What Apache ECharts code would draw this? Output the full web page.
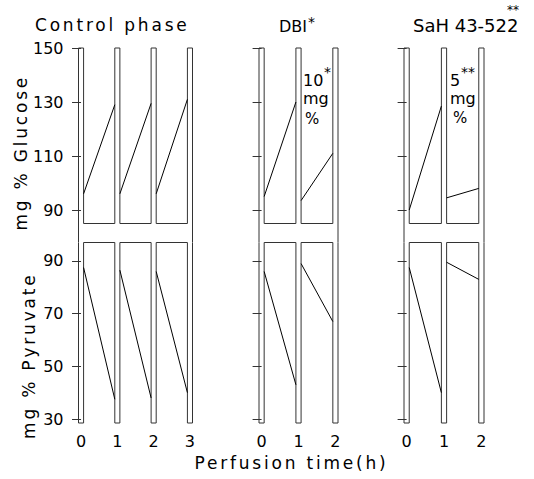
<!DOCTYPE html>
<html>
<head>
<meta charset="utf-8">
<script src="https://cdn.jsdelivr.net/npm/echarts@6/dist/echarts.min.js"></script>
<style>
  html, body { margin: 0; padding: 0; background: #fff; }
  #chart { width: 534px; height: 479px; }
  /* the old lettering is spaced out, numbers are not */
  #chart text[style*="spaced"], #chart text[font-family*="spaced"] { letter-spacing: 2.8px; }
</style>
</head>
<body>
<div id="chart"></div>
<script>
var hoursControl = [0, 1, 2, 3];
var hoursDrug = [0, 1, 2];

// [start, end] value of each hour of perfusion
var controlGlucose = [[96, 129], [96, 129.5], [96, 131]];
var controlPyruvate = [[87.5, 37.5], [86.5, 38], [86, 40]];
var dbiGlucose = [[95, 130], [93.5, 111]];
var dbiPyruvate = [[86, 43], [89, 67]];
var sahGlucose = [[90, 128.5], [94.5, 98]];
var sahPyruvate = [[87.5, 40], [89.5, 83]];

var glucoseTicks = [90, 110, 130, 150];
var pyruvateTicks = [30, 50, 70, 90];

var W = 0.07; // half width of the sampling bars, in hours
var GLU = { min: 85, max: 150, ext: 78 };
var PYR = { min: 28.5, max: 97 };
var WORDS = "'DejaVu Sans', spaced";
var PLAIN = "'DejaVu Sans'";
var INK = '#000';
var FRAME = '#333';

var chart = echarts.init(document.getElementById('chart'), null, { renderer: 'svg' });

var panels = [
  { hours: hoursControl, glucose: controlGlucose, pyruvate: controlPyruvate, left: 78.5, width: 114 },
  { hours: hoursDrug, glucose: dbiGlucose, pyruvate: dbiPyruvate, left: 259, width: 79 },
  { hours: hoursDrug, glucose: sahGlucose, pyruvate: sahPyruvate, left: 404, width: 80 }
];

var grid = [], xAxis = [], yAxis = [], series = [];

function lineSeries(gi, data, color) {
  return {
    type: 'line', xAxisIndex: gi, yAxisIndex: gi, data: data,
    symbol: 'none', clip: false, silent: true, animation: false,
    lineStyle: { color: color, width: 1 }
  };
}

panels.forEach(function (p, i) {
  var n = p.hours.length;
  var last = p.hours[n - 1];
  grid.push({ left: p.left, width: p.width, top: 48, height: 175.5 });
  grid.push({ left: p.left, width: p.width, top: 242.5, height: 180.5 });

  [0, 1].forEach(function (k) {
    var gi = i * 2 + k;
    var ticks = k === 0 ? glucoseTicks : pyruvateTicks;
    var lim = k === 0 ? GLU : PYR;
    xAxis.push({
      gridIndex: gi, type: 'value', min: -W, max: last + W,
      axisLine: { show: false }, axisTick: { show: false }, splitLine: { show: false },
      axisLabel: { show: k === 1, customValues: p.hours, margin: 10, fontSize: 16, color: INK, fontFamily: PLAIN }
    });
    yAxis.push({
      gridIndex: gi, type: 'value', min: lim.min, max: lim.max,
      axisLine: { show: false }, splitLine: { show: false },
      axisTick: { show: true, length: 9, customValues: ticks, lineStyle: { color: FRAME } },
      axisLabel: { show: i === 0, customValues: ticks, margin: 15, fontSize: 16, color: INK, fontFamily: PLAIN }
    });
  });

  // glucose frame: closed caps on top at each hour, open boxes between
  var gf = [];
  p.hours.forEach(function (h, j) {
    gf.push([h - W, j === 0 ? GLU.ext : GLU.min], [h - W, GLU.max], [h + W, GLU.max], [h + W, j === n - 1 ? GLU.ext : GLU.min]);
  });
  series.push(lineSeries(i * 2, gf, FRAME));

  // pyruvate frame: the same upside down
  var pf = [];
  p.hours.forEach(function (h) {
    pf.push([h - W, PYR.max], [h - W, PYR.min], [h + W, PYR.min], [h + W, PYR.max]);
  });
  series.push(lineSeries(i * 2 + 1, pf, FRAME));

  // one line per hour of perfusion
  for (var j = 0; j < n - 1; j++) {
    series.push(lineSeries(i * 2, [[p.hours[j] + W, p.glucose[j][0]], [p.hours[j + 1] - W, p.glucose[j][1]]], INK));
    series.push(lineSeries(i * 2 + 1, [[p.hours[j] + W, p.pyruvate[j][0]], [p.hours[j + 1] - W, p.pyruvate[j][1]]], INK));
  }
});

yAxis[0].name = 'mg % Glucose';
yAxis[0].nameLocation = 'middle';
yAxis[0].nameGap = 41;
yAxis[0].nameTextStyle = { fontSize: 17, color: INK, fontFamily: WORDS, padding: [0, 34, 0, 0] };
yAxis[1].name = 'mg % Pyruvate';
yAxis[1].nameLocation = 'middle';
yAxis[1].nameGap = 41;
yAxis[1].nameTextStyle = { fontSize: 17, color: INK, fontFamily: WORDS, padding: [0, 46, 0, 0] };

xAxis[3].name = 'Perfusion time(h)';
xAxis[3].nameLocation = 'middle';
xAxis[3].nameGap = 31;
xAxis[3].nameTextStyle = { fontSize: 17, color: INK, fontFamily: WORDS, padding: [0, 14, 0, 0] };

function label(text, x, y, size, family) {
  return {
    type: 'text', x: x, y: y, silent: true,
    style: { text: text, fontSize: size, fontFamily: family || PLAIN, fill: INK, align: 'left', verticalAlign: 'middle' }
  };
}

var option = {
  backgroundColor: '#fff',
  animation: false,
  grid: grid,
  xAxis: xAxis,
  yAxis: yAxis,
  series: series,
  graphic: [
    label('Control phase', 35, 25, 17, WORDS),
    label('DBI', 279, 26, 16),
    label('*', 308, 22, 14),
    label('SaH 43-522', 413, 25, 18),
    label('**', 507, 10, 12),
    label('10', 303, 80, 16),
    label('*', 324, 72, 14),
    label('mg', 303, 98, 16),
    label('%', 305, 119, 15),
    label('5', 450, 80, 16),
    label('**', 461, 72, 14),
    label('mg', 450, 98, 16),
    label('%', 453, 118, 15)
  ]
};

chart.setOption(option);
</script>
</body>
</html>
